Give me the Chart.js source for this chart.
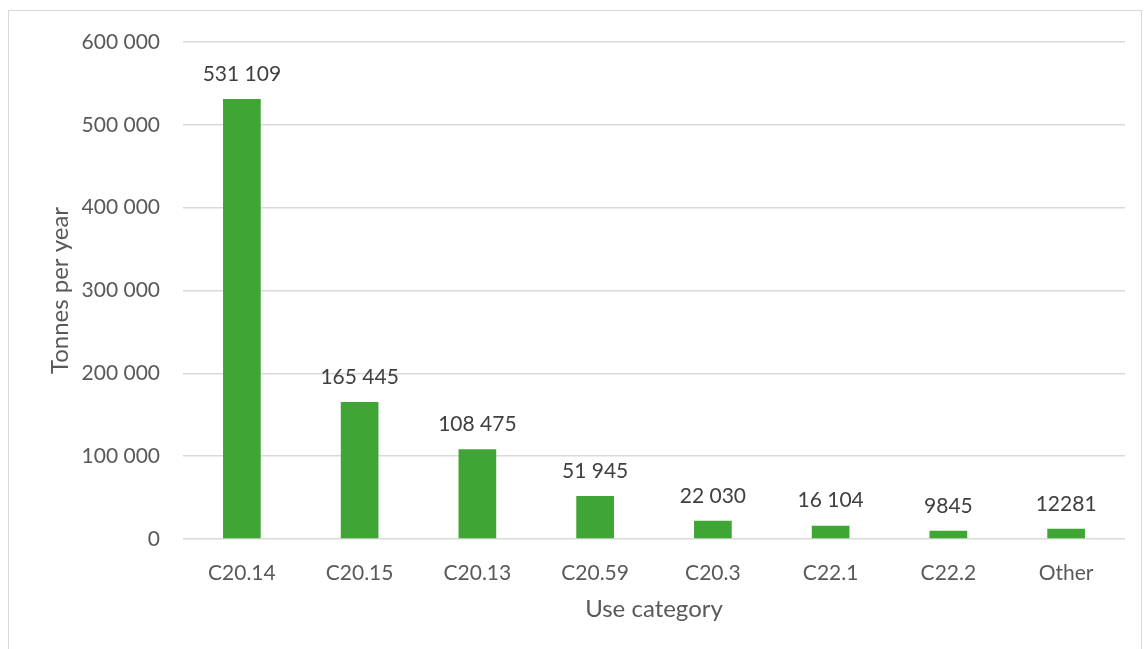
<!DOCTYPE html>
<html>
<head>
<meta charset="utf-8">
<script src="https://cdn.jsdelivr.net/npm/chart.js@4/dist/chart.umd.min.js"></script>
<style>
  body { margin: 0; background: #fff; }
  #wrap { position: absolute; left: 8px; top: 10px; width: 1132px; height: 650px; border: 1px solid #d9d9d9; }
</style>
</head>
<body>
<div id="wrap"><canvas id="chart"></canvas></div>
<script>
    var categories = ["C20.14", "C20.15", "C20.13", "C20.59", "C20.3", "C22.1", "C22.2", "Other"];
    var tonnes = [531109, 165445, 108475, 51945, 22030, 16104, 9845, 12281];
    var valueLabels = ["531 109", "165 445", "108 475", "51 945", "22 030", "16 104", "9845", "12281"];
    var yTicks = [0, 100000, 200000, 300000, 400000, 500000, 600000];

    function spaced(n) {
        return String(n).replace(/\B(?=(\d{3})+(?!\d))/g, " ");
    }

    // draws the number above each bar
    var barLabels = {
        id: "barLabels",
        afterDatasetsDraw: function (chart) {
            var ctx = chart.ctx;
            var meta = chart.getDatasetMeta(0);
            ctx.save();
            ctx.font = "21px Lato";
            ctx.fillStyle = "#404040";
            ctx.textAlign = "center";
            ctx.textBaseline = "middle";
            meta.data.forEach(function (bar, i) {
                ctx.fillText(valueLabels[i], bar.x, bar.y - 25);
            });
            ctx.restore();
        }
    };

    new Chart(document.getElementById("chart"), {
        type: "bar",
        data: {
            labels: categories,
            datasets: [{
                data: tonnes,
                backgroundColor: "#3fa535",
                categoryPercentage: 1,
                barPercentage: 0.32
            }]
        },
        options: {
            responsive: true,
            maintainAspectRatio: false,
            animation: false,
            layout: { padding: { left: 0, right: 16, top: 31, bottom: 0 } },
            plugins: {
                legend: { display: false },
                tooltip: { enabled: false }
            },
            scales: {
                x: {
                    grid: { display: false },
                    border: { display: false },
                    ticks: { color: "#595959", font: { family: "Lato", size: 21 }, padding: 14 },
                    title: { display: true, text: "Use category", color: "#595959",
                             font: { family: "Lato", size: 24 }, padding: { top: 0, bottom: 37 } },
                    afterFit: function (s) { s.height = 122; }
                },
                y: {
                    min: 0,
                    max: 600000,
                    afterBuildTicks: function (s) { s.ticks = yTicks.map(function (v) { return { value: v }; }); },
                    grid: { color: "#d9d9d9", lineWidth: 1.5, drawTicks: false },
                    border: { display: false },
                    ticks: {
                        color: "#595959", font: { family: "Lato", size: 21 }, padding: 23,
                        callback: function (v) { return spaced(v); }
                    },
                    title: { display: true, text: "Tonnes per year", color: "#595959",
                             font: { family: "Lato", size: 24 }, padding: { top: 37, bottom: 0 } },
                    afterFit: function (s) { s.width = 174; s.paddingTop = 0; s.paddingBottom = 0; }
                }
            }
        },
        plugins: [barLabels]
    });
</script>
</body>
</html>
